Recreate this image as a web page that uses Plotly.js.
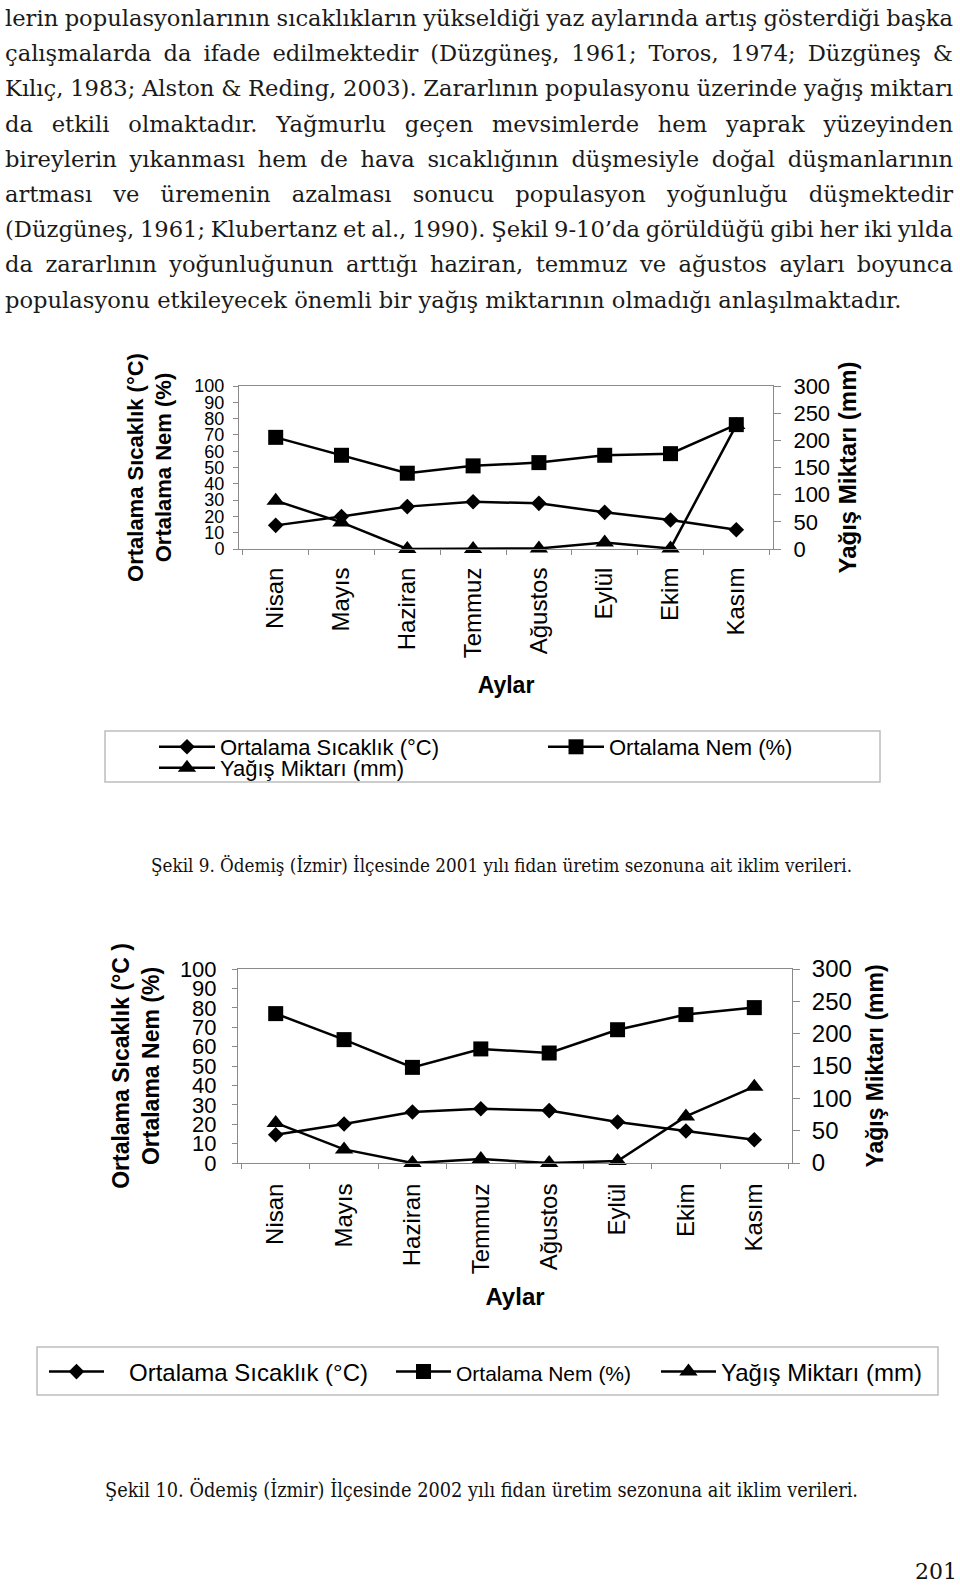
<!DOCTYPE html>
<html><head><meta charset="utf-8">
<script src="https://cdn.plot.ly/plotly-3.0.1.min.js"></script>
<style>
html,body{margin:0;padding:0;background:#fff;}
body{width:960px;height:1585px;position:relative;overflow:hidden;}
.ln{position:absolute;left:5px;white-space:nowrap;font-family:'DejaVu Serif',serif;color:#1a1a1a;line-height:36px;height:36px;}
.cap{position:absolute;white-space:nowrap;font-family:'DejaVu Serif',serif;color:#111;transform-origin:0 50%;line-height:30px;height:30px;}
#pg{position:absolute;right:3px;top:1557px;font-family:'DejaVu Serif',serif;font-size:22px;line-height:30px;color:#111;}
#c1{position:absolute;left:0;top:330px;width:960px;height:480px;}
#c2{position:absolute;left:0;top:920px;width:960px;height:500px;}
</style></head><body>
<div id="para"></div>
<div id="c1"></div>
<div id="c2"></div>
<div class="cap" id="cap1">Şekil 9. Ödemiş (İzmir) İlçesinde 2001 yılı fidan üretim sezonuna ait iklim verileri.</div>
<div class="cap" id="cap2">Şekil 10. Ödemiş (İzmir) İlçesinde 2002 yılı fidan üretim sezonuna ait iklim verileri.</div>
<div id="pg">201</div>
<script>
// ---------------- data ----------------
const months = ['Nisan','Mayıs','Haziran','Temmuz','Ağustos','Eylül','Ekim','Kasım'];

// Şekil 9 (2001)
const temp2001 = [14.5, 19.9, 26.0, 29.0, 28.0, 22.5, 17.8, 11.8];
const hum2001  = [68.5, 57.5, 46.5, 51.0, 53.0, 57.5, 58.5, 76.3];
const rain2001 = [89, 49, 0, 0, 1, 12, 1, 228];

// Şekil 10 (2002)
const temp2002 = [14.6, 20.1, 26.3, 28.0, 27.0, 21.1, 16.5, 12.0];
const hum2002  = [77.0, 63.6, 49.3, 58.8, 56.7, 68.7, 76.5, 80.1];
const rain2002 = [62, 21, 0, 6, 0, 3, 72, 118];

const leftTicks = [0,10,20,30,40,50,60,70,80,90,100];
const rightTicks = [0,50,100,150,200,250,300];

const paraLines = [
 'lerin populasyonlarının sıcaklıkların yükseldiği yaz aylarında artış gösterdiği başka',
 'çalışmalarda da ifade edilmektedir (Düzgüneş, 1961; Toros, 1974; Düzgüneş &',
 'Kılıç, 1983; Alston & Reding, 2003). Zararlının populasyonu üzerinde yağış miktarı',
 'da etkili olmaktadır. Yağmurlu geçen mevsimlerde hem yaprak yüzeyinden',
 'bireylerin yıkanması hem de hava sıcaklığının düşmesiyle doğal düşmanlarının',
 'artması ve üremenin azalması sonucu populasyon yoğunluğu düşmektedir',
 '(Düzgüneş, 1961; Klubertanz et al., 1990). Şekil 9-10’da görüldüğü gibi her iki yılda',
 'da zararlının yoğunluğunun arttığı haziran, temmuz ve ağustos ayları boyunca',
 'populasyonu etkileyecek önemli bir yağış miktarının olmadığı anlaşılmaktadır.'
];

// ---------------- paragraph ----------------
(function(){
  const para = document.getElementById('para');
  const els = paraLines.map((t,i)=>{
    const d = document.createElement('div');
    d.className = 'ln'; d.textContent = t;
    d.style.top = (i*35.2) + 'px';
    d.style.fontSize = '21px';
    para.appendChild(d); return d;
  });
  const last = els[els.length-1];
  let w = last.getBoundingClientRect().width;
  const fs = 21*897/w;
  els.forEach(e=>e.style.fontSize = fs+'px');
  els.forEach((e,i)=>{
    if(i===els.length-1) return;
    const ww = e.getBoundingClientRect().width;
    const n = (e.textContent.match(/ /g)||[]).length;
    e.style.wordSpacing = ((948-ww)/n) + 'px';
  });
  function fitCap(id, fsz, left, cy, target){
    const e = document.getElementById(id);
    e.style.fontSize = fsz+'px';
    e.style.left = left+'px';
    e.style.top = (cy-15)+'px';
    const ww = e.getBoundingClientRect().width;
    e.style.transform = 'scaleX(' + (target/ww) + ')';
  }
  fitCap('cap1', 19, 151, 865, 701);
  fitCap('cap2', 20, 105, 1490, 753);
})();

// ---------------- charts ----------------
const F = 'Liberation Sans, Arial, sans-serif';
const AX = '#8a8a8a';

function chart(id, o){
  const common = {x: months, mode:'lines+markers', cliponaxis:false,
                  line:{color:'#000', width:2.5}};
  const traces = [
    Object.assign({}, common, {y:o.rain, yaxis:'y', name:o.rainName, legend:'legend3',
        marker:{symbol:'triangle-up', size:16, color:'#000'}}),
    Object.assign({}, common, {y:o.temp, yaxis:'y2', name:o.tempName, legend:'legend',
        marker:{symbol:'diamond', size:12, color:'#000'}}),
    Object.assign({}, common, {y:o.hum, yaxis:'y2', name:o.humName, legend:'legend2',
        marker:{symbol:'square', size:15, color:'#000'}})
  ];
  const legBase = {xanchor:'left', yanchor:'middle', orientation:'v', bgcolor:'rgba(0,0,0,0)',
                   borderwidth:0, itemwidth:o.itemW, font:{family:F, size:o.legFont, color:'#000'}};
  const layout = {
    width:960, height:o.H, autosize:false,
    margin:{l:o.l, r:o.r, t:o.t, b:o.b, pad:0},
    paper_bgcolor:'#fff', plot_bgcolor:'#fff',
    showlegend:true,
    font:{family:F, color:'#000'},
    xaxis:{type:'category', tickson:'boundaries', ticks:'outside', ticklen:5, tickcolor:AX, tickwidth:1,
           showline:true, linecolor:AX, linewidth:1, mirror:true, showgrid:false, zeroline:false,
           tickangle:-90, ticklabelstandoff:o.xStand, tickfont:{family:F, size:24, color:'#000'},
           title:{text:'<b>Aylar</b>', font:{family:F, size:o.aylarFont, color:'#000'}, standoff:o.aylarStand}},
    yaxis:{range:[0,300], tickvals:rightTicks, side:'right', ticks:'outside', ticklen:7, tickcolor:AX,
           showline:true, linecolor:AX, linewidth:1, showgrid:false, zeroline:false,
           ticklabelstandoff:o.rStand, tickfont:{family:F, size:o.rFont, color:'#000'},
           title:{text:'<b>Yağış Miktarı (mm)</b>', font:{family:F, size:o.rTitle, color:'#000'}, standoff:o.rTStand}},
    yaxis2:{range:[0,100], tickvals:leftTicks, side:'left', overlaying:'y', ticks:'outside', ticklen:5, tickcolor:AX,
           showline:true, linecolor:AX, linewidth:1, showgrid:false, zeroline:false,
           ticklabelstandoff:o.lStand, tickfont:{family:F, size:o.lFont, color:'#000'},
           title:{text:o.leftTitle, font:{family:F, size:o.lTitle, color:'#000'}, standoff:o.lTStand}},
    legend: Object.assign({}, legBase, {x:o.leg[0][0], y:o.leg[0][1]}),
    legend2: Object.assign({}, legBase, {x:o.leg[1][0], y:o.leg[1][1]}),
    legend3: Object.assign({}, legBase, {x:o.leg[2][0], y:o.leg[2][1]}),
    shapes:[{type:'rect', xref:'paper', yref:'paper', x0:o.box[0], x1:o.box[1], y0:o.box[2], y1:o.box[3],
             line:{color:'#bdbdbd', width:1.5}, fillcolor:'rgba(0,0,0,0)', layer:'below'}]
  };
  Plotly.newPlot(id, traces, layout, {displayModeBar:false, staticPlot:true});
}

chart('c1', {
  H:480, l:239, r:187, t:56, b:261,
  temp:temp2001, hum:hum2001, rain:rain2001,
  tempName:'Ortalama Sıcaklık (°C)', humName:'Ortalama Nem (%)', rainName:'Yağış Miktarı (mm)',
  itemW:56, legFont:22,
  leg:[[-0.1592,-1.2147],[0.5693,-1.2147],[-0.1592,-1.3436]],
  box:[-0.2509,1.2004,-1.4294,-1.1166],
  xStand:8, aylarFont:23, aylarStand:19,
  rFont:22, rStand:8, rTitle:24, rTStand:10,
  lFont:18, lStand:5, lTitle:22, lTStand:16,
  leftTitle:'<b>Ortalama Sıcaklık (°C)</b><br><b>Ortalama Nem (%)</b>'
});

chart('c2', {
  H:500, l:238, r:168, t:49, b:257,
  temp:temp2002, hum:hum2002, rain:rain2002,
  tempName:'\u00a0\u00a0\u00a0Ortalama Sıcaklık (°C)',
  humName:'<span style="font-size:21px">Ortalama Nem (%)</span>',
  rainName:'Yağış Miktarı (mm)',
  itemW:55, legFont:24,
  leg:[[-0.3502,-1.0773],[0.2762,-1.0773],[0.7545,-1.0773]],
  box:[-0.3628,1.2635,-1.1959,-0.9485],
  xStand:10, aylarFont:24, aylarStand:14,
  rFont:24, rStand:7, rTitle:23, rTStand:16,
  lFont:22, lStand:11, lTitle:23, lTStand:13,
  leftTitle:'<b>Ortalama Sıcaklık (°C )</b><br><b>Ortalama Nem (%)</b>'
});
</script>
</body></html>
